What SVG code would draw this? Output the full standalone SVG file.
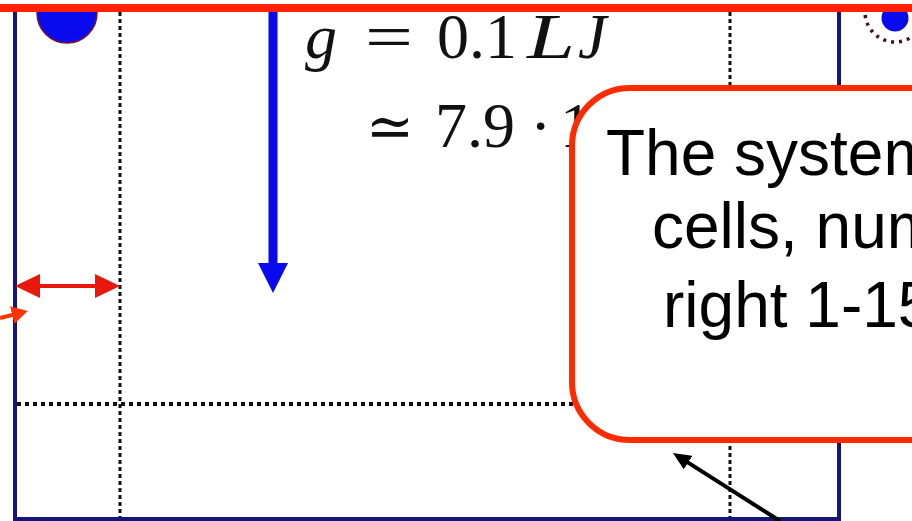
<svg xmlns="http://www.w3.org/2000/svg" width="912" height="521" viewBox="0 0 912 521">
<defs>
<style>
.frame{stroke:#14147a;stroke-width:4;fill:none}
.dotv{stroke:#111;stroke-width:3;stroke-dasharray:4 3;fill:none}
.doth{stroke:#111;stroke-width:4;stroke-dasharray:4 4;fill:none}
.math{font-family:"Liberation Serif","DejaVu Serif",serif;font-size:64px;fill:#111}
.it{font-style:italic}
.lbl{font-family:"Liberation Sans",Arial,sans-serif;font-size:64px;fill:#000}
</style>
<marker id="blueHead" viewBox="0 0 30 30" refX="7" refY="15" markerWidth="30" markerHeight="30" markerUnits="userSpaceOnUse" orient="auto">
<path d="M0,0 L30,15 L0,30 z" fill="#0a0aef"/>
</marker>
<marker id="redHead" viewBox="0 0 25 24" refX="20" refY="12" markerWidth="25" markerHeight="24" markerUnits="userSpaceOnUse" orient="auto-start-reverse">
<path d="M0,0 L25,12 L0,24 z" fill="#e8180c"/>
</marker>
<marker id="orangeHead" viewBox="0 0 16 18" refX="8" refY="9" markerWidth="16" markerHeight="18" markerUnits="userSpaceOnUse" orient="auto">
<path d="M0,0 L16,9 L0,18 z" fill="#ff3300"/>
</marker>
<marker id="blackHead" viewBox="0 0 18 16" refX="6" refY="8" markerWidth="18" markerHeight="16" markerUnits="userSpaceOnUse" orient="auto">
<path d="M0,0 L18,8 L0,16 z" fill="#000"/>
</marker>
</defs>
<rect width="912" height="521" fill="#fff"/>

<g id="cell-grid">
<line class="dotv" x1="120" y1="12" x2="120" y2="521"/>
<line class="dotv" x1="730" y1="12" x2="730" y2="521"/>
<line class="doth" x1="17" y1="404" x2="575" y2="404"/>
<path class="frame" d="M15,12 V519 H839 V12"/>
</g>

<g id="particle-left">
<circle cx="67" cy="13" r="30" fill="#0a0aef" stroke="#7a1030" stroke-width="1.5"/>
</g>

<g id="particle-right">
<circle cx="895" cy="12" r="30" fill="none" stroke="#3a1510" stroke-width="3.5" stroke-dasharray="3 5"/>
<circle cx="895" cy="18" r="13.5" fill="#0a0aef"/>
</g>

<g id="gravity-label" class="math">
<text x="305" y="58" class="it">g</text>
<text x="365" y="58" textLength="48" lengthAdjust="spacingAndGlyphs">=</text>
<text x="437" y="58">0.1</text>
<text x="527" y="58" class="it" textLength="48" lengthAdjust="spacingAndGlyphs">L</text>
<text x="578" y="58" class="it">J</text>
<text x="366" y="147" font-family="DejaVu Serif,serif" font-size="60" textLength="48" lengthAdjust="spacingAndGlyphs">≃</text>
<text x="435" y="147">7.9</text>
<text x="530" y="147">·</text>
<text x="560" y="147">1</text>
</g>

<g id="connectors">
<line x1="273" y1="12" x2="273" y2="270" stroke="#0a0aef" stroke-width="9" marker-end="url(#blueHead)"/>
<line x1="20" y1="286" x2="115" y2="286" stroke="#e8180c" stroke-width="4" marker-start="url(#redHead)" marker-end="url(#redHead)"/>
<line x1="0" y1="318" x2="20" y2="313" stroke="#ff3300" stroke-width="4" marker-end="url(#orangeHead)"/>
<line x1="780" y1="521" x2="683" y2="459.4" stroke="#000" stroke-width="4" marker-end="url(#blackHead)"/>
</g>

<g id="callout">
<rect x="572" y="88" width="420" height="352" rx="58" ry="58" fill="#fff" stroke="#ff2a00" stroke-width="6"/>
<text class="lbl" x="606" y="175">The system</text>
<text class="lbl" x="652" y="248">cells, num</text>
<text class="lbl" x="663" y="327">right 1-15</text>
</g>

<g id="top-bar">
<rect x="0" y="0" width="912" height="4" fill="#fff"/>
<rect x="0" y="4" width="912" height="8" fill="#ff2200"/>
</g>
</svg>
